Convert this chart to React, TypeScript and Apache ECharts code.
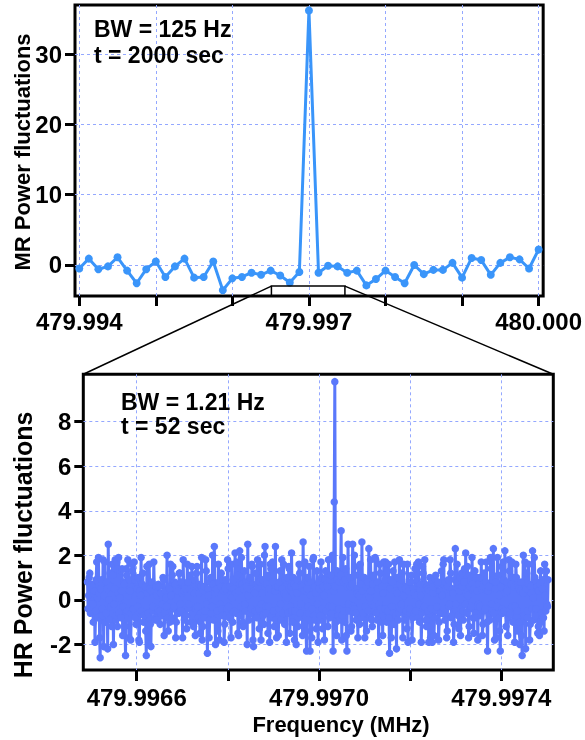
import React, { useEffect, useRef } from 'react';
import * as echarts from 'echarts';

// ---- Data ----
const mrFreqStart = 479.994; // MHz
const mrFreqStep = 0.000125; // 125 Hz
const mrValues = [
  -0.5, 0.9, -0.6, -0.2, 1.1, -0.8, -2.6, -0.6, 0.5, -1.7,
  -0.2, 0.9, -1.8, -1.7, 0.5, -3.6, -1.9, -1.7, -1.1, -1.4,
  -0.8, -1.5, -2.5, -1.0, 36.2, -1.1, -0.1, -0.2, -1.1, -0.8,
  -2.9, -2.0, -0.8, -1.7, -2.6, 0.0, -1.3, -0.7, -0.7, 0.3,
  -1.8, 1.0, 0.7, -1.4, 0.3, 1.1, 0.8, -0.5, 2.2,
];

const hrFreqStart = 479.996492; // MHz
const hrFreqStep = 0.000001265;
const hrValues = [
  0.8, -0.4, 0.2, 1.0, 1.2, -0.6, -0.3, 0.7, 0.6, -0.2, -1.0, 0.3, 0.4, -1.9, -0.5, 0.9, 1.7, 0.1, -0.8, 1.9,
  0.3, -1.7, -2.6, 0.5, 0.9, -0.7, -0.4, 1.8, -2.1, 0.2, 1.7, -1.0, -0.6, 0.8, 0.5, -2.2, 2.5, 0.0, -0.9, 1.2,
  0.6, -0.3, -1.2, 1.6, 1.1, -2.0, -0.2, 0.5, 1.8, -0.9, -0.7, 1.7, -1.2, 0.3, 1.9, -0.6, 0.1, 1.3, -0.8, 0.4,
  1.4, -1.6, -0.3, 0.8, 0.7, -1.2, -2.5, 1.4, 1.1, -0.5, 1.8, 0.2, -1.7, 0.9, 0.4, -1.8, -0.6, 1.6, 1.3, -0.4,
  -0.4, 1.7, 0.9, -0.8, -1.1, 0.6, 0.5, -0.3, 1.0, -1.8, -1.9, 0.4, 0.2, 1.9, -0.5, 0.7, 1.2, -1.0, -0.7, 0.5,
  0.6, -1.4, -2.5, 1.5, 0.3, -0.6, -2.0, 1.6, 0.5, -1.1, -2.1, 0.4, 0.8, -0.5, -0.3, 1.7, 0.4, -0.8, -0.9, 0.6,
  0.2, -0.9, -0.4, 0.7, 0.6, -0.5, -1.1, 0.3, 0.3, -0.7, -0.2, 1.0, 0.9, -1.6, -0.6, 0.4, 0.1, -0.3, 2.0, -0.8,
  -1.4, 0.6, 0.5, -1.0, 1.6, 0.2, -0.8, 1.1, 1.5, -0.4, -0.3, 0.8, 0.7, -1.7, -1.0, 0.5, 0.4, -0.6, -0.6, 1.2,
  1.2, -0.2, -0.5, 0.8, 0.3, -1.7, 1.8, 0.4, -0.9, 0.6, 0.5, -0.7, -1.3, 1.6, 0.8, -0.4, -0.2, 0.5, 1.1, -1.0,
  -0.7, 1.5, 0.4, -0.6, -1.2, 0.3, 0.9, -1.6, -0.4, 1.2, 1.5, -0.3, -0.8, 0.7, 0.3, -1.5, -1.0, 0.6, 1.9, -1.8,
  -1.2, 0.4, 0.6, -0.8, -0.5, 1.8, 1.3, -0.2, -2.4, 0.5, 0.2, -1.7, -0.9, 0.8, 1.0, -0.6, -0.3, 2.0, 0.7, -0.9,
  2.4, 0.3, -2.0, 0.7, 0.5, -0.5, -1.4, 1.6, 0.8, -1.8, -0.2, 0.6, 1.2, -0.4, -0.7, 0.9, 0.4, -1.9, -1.1, 0.5,
  0.9, -0.7, -0.4, 1.8, 1.4, -0.3, -0.8, 0.6, 0.2, -1.7, 1.6, 0.1, -1.0, 0.9, 0.5, -0.5, 2.1, 0.3, -0.6, 1.7,
  1.1, -1.5, -1.6, 0.4, 2.2, -0.7, -0.3, 1.9, 0.7, -1.0, -1.2, 0.5, 1.3, -0.2, -0.5, 0.8, 0.6, -2.0, 2.5, 0.2,
  -0.9, 0.5, 1.0, -0.6, -0.4, 1.6, 1.5, -1.8, -2.1, 0.4, 0.3, -0.5, 1.2, 0.7, -0.8, 1.8, 0.6, -0.4, -1.3, 0.8,
  1.6, -1.8, -0.2, 0.3, 0.9, -0.7, -1.1, 2.0, 2.4, -0.3, -0.6, 0.7, 1.1, -1.5, -0.3, 0.5, -1.9, 1.6, 1.4, -0.8,
  -0.7, 1.7, 0.8, -0.5, -1.2, 0.4, 2.4, -0.9, -1.7, 0.6, 0.6, -1.6, -0.4, 0.8, 1.3, -0.2, -0.9, 1.8, 0.5, -0.6,
  1.6, 0.3, -1.1, 0.9, 0.2, -1.9, 1.0, 0.1, -0.6, 1.5, 1.4, -1.5, -0.3, 0.6, 2.1, -0.5, -1.0, 1.0, 0.7, -1.8,
  -0.5, 0.6, -2.0, 0.3, 0.9, -1.2, -0.8, 1.6, 1.2, -0.6, -0.2, 0.7, 0.6, -1.6, 2.6, 0.4, -1.1, 1.7, 0.4, -1.4,
  -2.3, 0.5, 1.0, -0.3, -0.6, 1.5, -2.3, 0.2, 0.8, -1.7, -0.4, 1.8, 1.9, -0.7, -0.9, 0.6, 0.3, -1.3, 1.3, -0.2,
  -1.9, 0.8, 0.5, -0.9, -0.7, 1.7, 1.0, -0.4, -1.3, 0.6, 0.2, -1.8, 0.9, 1.3, -0.5, 0.7, 0.6, -1.2, 1.8, -0.3,
  -0.8, 0.9, 1.1, -0.6, -0.3, 2.0, -2.3, 0.4, 4.4, 9.8, 0.6, -1.0, -1.6, 1.3, 1.2, -0.7, -0.4, 0.8, -0.9, 1.1,
  3.1, -1.8, -0.7, 1.9, 0.8, -0.5, -1.0, 0.9, 1.4, -1.6, -2.3, 0.6, 2.5, -0.2, -0.5, 1.0, 0.6, -1.4, -1.2, 0.7,
  2.5, -0.3, -0.4, 2.0, 1.1, -0.6, -0.9, 0.5, 0.3, -1.7, 1.5, 0.2, -1.1, 1.6, 0.7, -0.8, 2.6, 0.4, -0.6, 1.0,
  1.0, -1.7, -0.3, 0.6, -1.4, 0.9, 0.8, -0.5, 2.3, 0.1, -0.8, 1.8, 0.4, -0.9, -1.2, 0.7, 1.1, -0.3, -0.5, 1.9,
  1.8, -0.6, -0.9, 0.8, 0.5, -1.9, -0.2, 1.6, 1.2, -0.4, -1.0, 0.6, -1.6, 0.3, 1.7, -0.8, -0.4, 1.7, 0.6, -1.0,
  1.6, -0.5, 1.6, -0.8, -2.4, 0.5, 0.9, -1.7, -0.3, 0.8, 1.3, -0.6, -1.1, 1.7, 0.4, -0.7, -2.2, 0.3, 1.0, -0.9,
  -0.6, 1.8, 0.7, -0.4, -0.2, 0.9, 1.2, -1.7, 1.6, 0.2, -0.9, 0.6, 0.5, -0.5, -1.3, 1.6, -1.9, 0.4, 0.8, -0.6,
  -0.4, 0.8, 1.1, -1.8, -0.8, 0.5, 0.3, -0.6, 1.4, 0.2, -0.5, 1.6, 0.9, -0.8, 1.7, -0.2, -1.0, 0.7, 0.2, -1.9,
  -0.6, 1.5, 1.2, -0.4, -0.3, 1.8, 0.7, -0.9, -1.2, 0.6, 0.5, -0.5, -1.9, 0.4, 1.0, -1.7, -0.4, 0.8, -1.9, 0.3,
  0.6, -1.6, -0.8, 0.9, 1.1, -0.5, -0.3, 0.7, 0.8, -1.8, -1.0, 0.4, 0.4, -0.6, 1.3, 0.2, -0.6, 1.6, 1.8, -0.4,
  -0.9, 0.8, 0.5, -1.7, -1.4, 0.6, 0.9, -0.3, -0.2, 1.8, 1.2, -0.8, -0.7, 0.5, 0.3, -1.9, -1.1, 0.9, 2.3, -0.2,
  -0.5, 1.6, 0.8, -0.7, -1.3, 0.4, 1.0, -1.6, -0.4, 1.2, 0.6, -0.5, -0.9, 0.8, 1.4, -0.2, 2.1, 0.3, -0.6, 1.5,
  0.2, -1.7, -1.2, 0.6, 1.1, -0.4, -0.3, 1.9, 0.7, -0.8, -1.5, 0.5, 1.3, -0.6, -0.8, 1.0, 0.4, -1.8, -0.2, 0.7,
  1.0, -0.3, -0.7, 1.7, 0.5, -1.6, -1.1, 0.6, 1.2, -0.5, -0.4, 0.8, 1.7, -1.0, -2.3, 0.4, 0.6, -0.7, -0.9, 1.9,
  1.4, -0.2, -0.5, 0.9, 2.3, -0.6, -1.8, 0.5, 0.8, -1.7, -0.3, 1.9, 1.1, -0.8, 0.2, -1.4, -2.3, 0.6, 1.5, -0.4,
  -0.6, 1.7, 0.9, -0.5, 2.2, 0.3, -1.2, 0.8, 0.4, -1.6, -0.8, 1.8, 1.3, -0.6, -0.4, 0.7, 1.7, -0.3, -1.0, 1.0,
  0.6, -1.9, -0.3, 1.6, 1.0, -0.5, -1.4, 0.6, 0.5, -1.0, -2.0, 0.4, 0.8, -1.6, -2.5, 0.3, 2.0, -0.8, -0.7, 1.7,
  -2.2, 0.5, 1.2, -0.8, -0.5, 1.6, 0.7, -1.8, -1.1, 0.6, 0.3, -0.4, 2.2, 0.1, -0.9, 1.9, 1.0, -0.7, -0.4, 0.8,
  0.6, -1.5, -1.2, 0.4, -1.6, 0.7, 1.3, -1.0, -0.6, 0.5, 0.9, -0.8, -1.4, 1.6, 0.2, -0.5, 1.3, -0.2, -0.3, 0.9,
];

// axis ticks / labels
const mrXTicks = [479.994, 479.995, 479.996, 479.997, 479.998, 479.999, 480.0];
const mrXLabels = [479.994, 479.997, 480.0];
const mrYTicks = [0, 10, 20, 30];
const hrXTicks = [479.9966, 479.9968, 479.997, 479.9972, 479.9974];
const hrXLabels = [479.9966, 479.997, 479.9974];
const hrYTicks = [-2, 0, 2, 4, 6, 8];

// axis extents
const mrXRange = [479.9939444, 480.0000594];
const mrYRange = [-4.41, 36.97];
const hrXRange = [479.9964828, 479.9975141];
const hrYRange = [-3.15, 10.13];

// zoomed region marked on the upper plot
const zoomFreqRange = [479.99651, 479.99747];
const zoomBoxTop = -3.0;

const FONT = '"Liberation Sans", Arial, Helvetica, sans-serif';
const GRID_COLOR = '#94a8ff';
const MR_COLOR = '#3a95fa';
const HR_COLOR = '#5a78fb';

function near(v: number, list: number[]) {
  return list.some((t) => Math.abs(t - v) < 1e-7);
}

export default function App() {
  const ref = useRef<HTMLDivElement>(null);
  useEffect(() => {
    if (!ref.current) return;
    const chart = echarts.init(ref.current, undefined, { renderer: 'svg' });
    const labelStyle = { color: '#000', fontWeight: 'bold' as const, fontFamily: FONT, fontSize: 24 };
    const tickStyle = { color: '#000', width: 3 };
    const split = { show: true, lineStyle: { color: GRID_COLOR, type: [3, 3] as any, width: 1 } };

    chart.setOption({
      animation: false,
      grid: [
        { left: 75, right: 36.7, top: 5, height: 291, show: true, borderColor: '#000', borderWidth: 3 },
        { left: 83.3, right: 31.7, top: 374.3, height: 295.7, show: true, borderColor: '#000', borderWidth: 3 },
      ],
      xAxis: [
        {
          type: 'value', gridIndex: 0, min: mrXRange[0], max: mrXRange[1],
          axisLine: { show: false, onZero: false },
          axisTick: { show: true, length: 10, lineStyle: tickStyle, customValues: mrXTicks },
          axisLabel: {
            ...labelStyle, margin: 13, customValues: mrXLabels,
            formatter: (v: number) => (near(v, mrXLabels) ? v.toFixed(3) : ''),
          },
          splitLine: split,
        },
        {
          type: 'value', gridIndex: 1, min: hrXRange[0], max: hrXRange[1],
          axisLine: { show: false, onZero: false },
          axisTick: { show: true, length: 11, lineStyle: tickStyle, customValues: hrXTicks },
          axisLabel: {
            ...labelStyle, margin: 15, customValues: hrXLabels,
            formatter: (v: number) => (near(v, hrXLabels) ? v.toFixed(4) : ''),
          },
          splitLine: split,
        },
      ],
      yAxis: [
        {
          type: 'value', gridIndex: 0, min: mrYRange[0], max: mrYRange[1],
          axisLine: { show: false, onZero: false },
          axisTick: { show: true, length: 10, lineStyle: tickStyle, customValues: mrYTicks },
          axisLabel: { ...labelStyle, margin: 13, customValues: mrYTicks, formatter: (v: number) => String(v) },
          splitLine: split,
        },
        {
          type: 'value', gridIndex: 1, min: hrYRange[0], max: hrYRange[1],
          axisLine: { show: false, onZero: false },
          axisTick: { show: true, length: 9, lineStyle: tickStyle, customValues: hrYTicks },
          axisLabel: { ...labelStyle, margin: 12, customValues: hrYTicks, formatter: (v: number) => String(v) },
          splitLine: split,
        },
      ],
      series: [
        {
          type: 'line', xAxisIndex: 0, yAxisIndex: 0,
          data: mrValues.map((v, i) => [mrFreqStart + i * mrFreqStep, v]),
          symbol: 'circle', symbolSize: 8, showSymbol: true,
          lineStyle: { color: MR_COLOR, width: 3 },
          itemStyle: { color: MR_COLOR },
        },
        {
          type: 'line', xAxisIndex: 1, yAxisIndex: 1,
          data: hrValues.map((v, i) => [hrFreqStart + i * hrFreqStep, v]),
          symbol: 'circle', symbolSize: 7.5, showSymbol: true, showAllSymbol: true,
          lineStyle: { color: HR_COLOR, width: 3 },
          itemStyle: { color: HR_COLOR },
        },
      ],
    });

    const p0 = chart.convertToPixel({ xAxisIndex: 0, yAxisIndex: 0 }, [zoomFreqRange[0], zoomBoxTop]) as number[];
    const p1 = chart.convertToPixel({ xAxisIndex: 0, yAxisIndex: 0 }, [zoomFreqRange[1], mrYRange[0]]) as number[];
    const q0 = chart.convertToPixel({ xAxisIndex: 1, yAxisIndex: 1 }, [hrXRange[0], hrYRange[1]]) as number[];
    const q1 = chart.convertToPixel({ xAxisIndex: 1, yAxisIndex: 1 }, [hrXRange[1], hrYRange[1]]) as number[];

    const txt = (text: string, x: number, y: number, size: number, align = 'left', rotation = 0) => ({
      type: 'text', x, y, rotation, z: 100,
      style: { text, fill: '#000', font: `bold ${size}px ${FONT}`, textAlign: align, textVerticalAlign: 'middle' },
    });

    chart.setOption({
      graphic: [
        {
          type: 'rect', z: 50,
          shape: { x: p0[0], y: p0[1], width: p1[0] - p0[0], height: p1[1] - p0[1] },
          style: { fill: 'none', stroke: '#000', lineWidth: 1.5 },
        },
        { type: 'line', z: 50, shape: { x1: p0[0], y1: p0[1], x2: q0[0], y2: q0[1] }, style: { stroke: '#000', lineWidth: 1.5 } },
        { type: 'line', z: 50, shape: { x1: p1[0], y1: p0[1], x2: q1[0], y2: q1[1] }, style: { stroke: '#000', lineWidth: 1.5 } },
        txt('BW = 125 Hz', 94, 29, 23),
        txt('t = 2000 sec', 94, 55, 23),
        txt('BW = 1.21 Hz', 121, 402, 23),
        txt('t = 52 sec', 121, 426, 23),
        txt('Frequency (MHz)', 341, 724, 22, 'center'),
        txt('MR Power fluctuations', 22, 152, 22, 'center', Math.PI / 2),
        txt('HR Power fluctuations', 23, 545, 25, 'center', Math.PI / 2),
      ],
    });

    return () => chart.dispose();
  }, []);

  return <div ref={ref} style={{ position: 'fixed', left: 0, top: 0, width: 585, height: 740 }} />;
}
